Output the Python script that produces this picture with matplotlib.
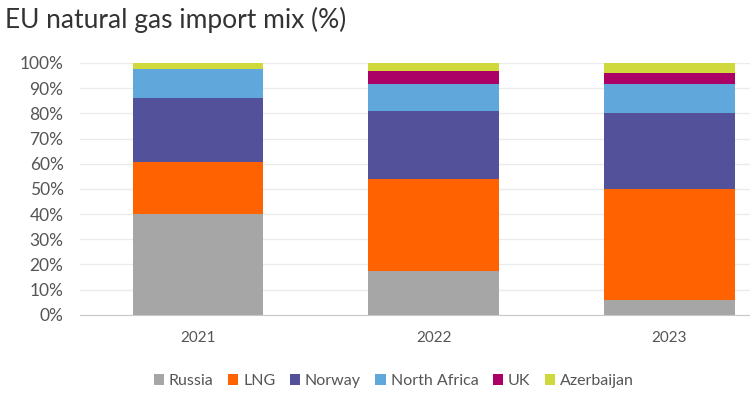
import numpy as np
import matplotlib
matplotlib.use('Agg')
from matplotlib import pyplot as plt

# data (% of EU gas imports)
years = ['2021', '2022', '2023']
russia = [40, 17.5, 6]
lng = [20.5, 36.5, 44]
norway = [25.5, 27, 30]
north_africa = [11.5, 10.5, 11.5]
uk = [0, 5.5, 4.5]
azerbaijan = [2.5, 3, 4]

series = [('Russia', russia, '#a6a6a6'),
          ('LNG', lng, '#ff6200'),
          ('Norway', norway, '#525199'),
          ('North Africa', north_africa, '#60a8dc'),
          ('UK', uk, '#ab0066'),
          ('Azerbaijan', azerbaijan, '#d0d93c')]

plt.rcParams['font.family'] = ['Lato', 'DejaVu Sans']

fig = plt.figure(figsize=(7.5, 3.96), dpi=100)
ax = fig.add_axes([0.107, 0.205, 0.893, 0.636])

x = np.arange(len(years))
bottom = np.zeros(len(years))
for name, vals, col in series:
    ax.bar(x, vals, width=0.555, bottom=bottom, color=col, label=name, zorder=2)
    bottom += np.array(vals)

ax.set_ylim(0, 100)
ax.set_xlim(-0.5, 2.343)
ax.set_yticks(np.arange(0, 101, 10))
ax.set_yticklabels(['%d%%' % v for v in range(0, 101, 10)])
ax.set_xticks(x)
ax.set_xticklabels(years)
ax.yaxis.grid(True, color='#ebebeb', linewidth=1, zorder=0)
ax.tick_params(axis='both', length=0, colors='#555555')
ax.tick_params(axis='x', pad=12, labelsize=11)
ax.tick_params(axis='y', pad=12, labelsize=12.5)
for s in ['top', 'right', 'left']:
    ax.spines[s].set_visible(False)
ax.spines['bottom'].set_color('#c8c8c8')

fig.text(0.007, 0.95, 'EU natural gas import mix (%)', fontsize=19,
         color='#333333', va='center', ha='left')

fig.legend(loc='center', bbox_to_anchor=(0.525, 0.038), ncol=6, frameon=False,
           fontsize=11.5, handlelength=0.65, handleheight=0.65, handletextpad=0.3,
           columnspacing=0.9, labelcolor='#555555')

fig.savefig('out.png', dpi=100)
